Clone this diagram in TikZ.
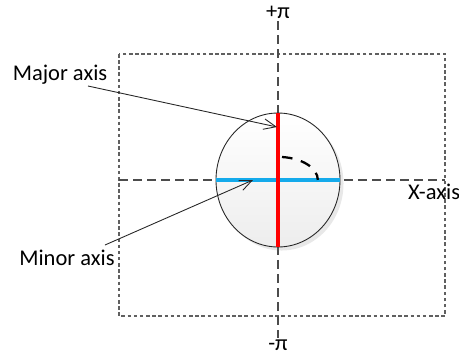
\documentclass[tikz,border=0pt]{standalone}
\usepackage{fontspec}
\setmainfont{Carlito}
\usetikzlibrary{arrows.meta,shapes.geometric,shadows}
\definecolor{minorblue}{RGB}{20,170,235}
\tikzset{
  frame/.style={draw=gray!75!black,dash pattern=on 2pt off 1.5pt,line width=0.6pt},
  axis/.style={draw=gray!60!black,dash pattern=on 5pt off 3pt,line width=0.6pt},
  pointer/.style={draw=gray!30!black,line width=0.5pt,-{Straight Barb[length=7pt,width=6pt]}},
  lbl/.style={font=\fontsize{12.8}{15}\selectfont,inner sep=1pt}
}
\begin{document}
\begin{tikzpicture}
  \useasboundingbox (-5.56,3.6) rectangle (3.62,-3.52);
  % outer frame and axes
  \draw[frame] (-3.18,2.52) rectangle (3.34,-2.72);
  \coordinate (xl) at (-3.18,0);
  \coordinate (xr) at (3.34,0);
  \coordinate (yt) at (0,3.18);
  \coordinate (yb) at (0,-3.16);
  \draw[axis] (xl) -- (xr);
  \draw[axis] (yt) -- (yb);
  % the ellipse
  \node[ellipse,draw=gray!30!black,line width=0.5pt,minimum width=2.48cm,minimum height=2.68cm,
        top color=white,bottom color=gray!14,drop shadow={opacity=0.18,shadow xshift=2pt,shadow yshift=-2pt}] (ell) at (0,0) {};
  \draw[minorblue,line width=2pt] (ell.west) -- (ell.east);
  \draw[red,line width=2pt] (ell.north) -- (ell.south);
  \draw[black,line width=1.3pt,dash pattern=on 6pt off 5pt] (0.08,0.46) arc[start angle=84,end angle=0,x radius=0.8,y radius=0.46];
  % labels
  \node[lbl] (pplus) at (0,3.36) {+π};
  \node[lbl] (pminus) at (0,-3.3) {-π};
  \node[lbl,anchor=west] (xaxis) at (2.56,-0.24) {X-axis};
  \node[lbl] (major) at (-4.36,2.1) {Major axis};
  \node[lbl] (minor) at (-4.22,-1.56) {Minor axis};
  \coordinate (majend) at (-0.02,1.06);
  \coordinate (minend) at (-0.5,0);
  \draw[pointer] (-3.8,1.88) -- (majend);
  \draw[pointer] (-3.46,-1.3) -- (minend);
\end{tikzpicture}
\end{document}
